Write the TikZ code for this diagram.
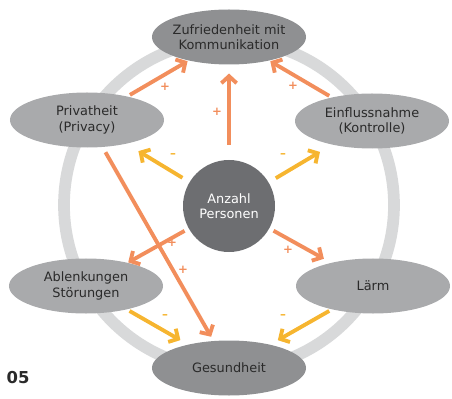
\documentclass[tikz,border=0pt]{standalone}
\usepackage{fontspec}
\setmainfont{DejaVu Sans}
\usetikzlibrary{arrows.meta,shapes.geometric}
\definecolor{ringgray}{HTML}{D8D9DA}
\definecolor{darkfill}{HTML}{8F9092}
\definecolor{lightfill}{HTML}{A9AAAC}
\definecolor{corefill}{HTML}{6D6E71}
\definecolor{textdark}{HTML}{2A2A2A}
\definecolor{pluscol}{HTML}{F28E5C}
\definecolor{minuscol}{HTML}{F6B530}
\tikzset{
  factor/.style={ellipse,fill=lightfill,text=textdark,align=center,inner xsep=-2pt,inner ysep=0pt,
    minimum width=4.62cm,minimum height=1.65cm,font=\fontsize{11}{13}\selectfont},
  mainfactor/.style={factor,fill=darkfill},
  core/.style={circle,fill=corefill,text=white,align=center,minimum size=2.76cm,inner sep=0pt,
    font=\fontsize{11}{13}\selectfont},
  posarrow/.style={line width=3.3pt,draw=pluscol,-{Straight Barb[length=6pt,width=13pt]}},
  negarrow/.style={line width=3.3pt,draw=minuscol,-{Straight Barb[length=6pt,width=13pt]}},
  sign/.style={font=\fontsize{10}{10}\selectfont\bfseries,inner sep=0pt}
}
\begin{document}
\begin{tikzpicture}[x=0.03cm,y=-0.03cm]
\useasboundingbox (0,0) rectangle (452,399);
\draw[ringgray,line width=10pt] (229,205) circle (165);

\node[mainfactor] (zuf) at (229,37) {Zufriedenheit mit\\Kommunikation};
\node[factor] (priv) at (87,120) {Privatheit\\(Privacy)};
\node[factor] (einf) at (372,121) {Einflussnahme\\(Kontrolle)};
\node[core] (anz) at (229,206) {Anzahl\\Personen};
\node[factor] (abl) at (86,286) {Ablenkungen\\Störungen};
\node[factor] (laerm) at (373,286) {Lärm};
\node[mainfactor] (ges) at (229,368) {Gesundheit};

\draw[posarrow,shorten <=2.5pt,shorten >=1pt] (priv) -- (zuf);
\draw[posarrow,shorten <=13pt,shorten >=7.5pt] (anz) -- (zuf);
\draw[posarrow,shorten <=2.5pt,shorten >=1pt] (einf) -- (zuf);
\draw[posarrow,shorten <=5pt,shorten >=4pt] (priv) -- (ges);
\draw[posarrow,shorten <=4pt,shorten >=0.5pt] (anz) -- (abl);
\draw[posarrow,shorten <=4pt,shorten >=7pt] (anz) -- (laerm);
\draw[negarrow,shorten <=7pt,shorten >=12pt] (anz) -- (priv);
\draw[negarrow,shorten <=7pt,shorten >=12pt] (anz) -- (einf);
\draw[negarrow,shorten <=2.5pt,shorten >=7.5pt] (abl) -- (ges);
\draw[negarrow,shorten <=2.5pt,shorten >=7.5pt] (laerm) -- (ges);

\node[sign,text=pluscol] (s1) at (165,87) {+};
\node[sign,text=pluscol] (s2) at (217,112) {+};
\node[sign,text=pluscol] (s3) at (293,86) {+};
\node[sign,text=pluscol] (s4) at (183,270) {+};
\node[sign,text=pluscol] (s5) at (172,243) {+};
\node[sign,text=pluscol] (s6) at (288,250) {+};
\node[sign,text=minuscol] (s7) at (173,156) {–};
\node[sign,text=minuscol] (s8) at (283,156) {–};
\node[sign,text=minuscol] (s9) at (165,317) {–};
\node[sign,text=minuscol] (s10) at (283,317) {–};

\node[text=textdark,font=\fontsize{14}{14}\selectfont\bfseries] (fig) at (18,378) {05};
\end{tikzpicture}
\end{document}
